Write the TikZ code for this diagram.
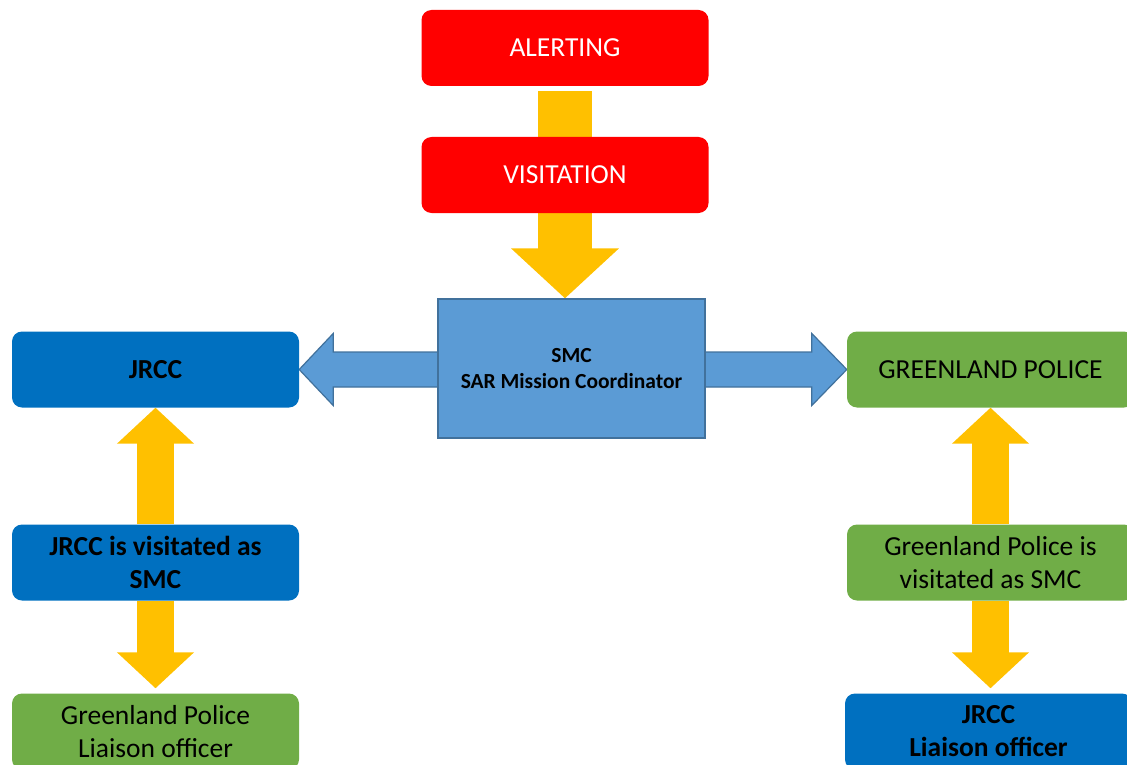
\documentclass[tikz,border=0pt]{standalone}
\usepackage{fontspec}
\setmainfont{Carlito}
\usetikzlibrary{arrows.meta,calc,backgrounds}

\definecolor{alertred}{HTML}{FF0000}
\definecolor{boxblue}{HTML}{0070C0}
\definecolor{boxgreen}{HTML}{70AD47}
\definecolor{smcblue}{HTML}{5B9BD5}
\definecolor{smcedge}{HTML}{41719C}
\definecolor{amber}{HTML}{FFC000}

\tikzstyle{block} = [rectangle, rounded corners=10pt, minimum width=287pt, minimum height=76pt, inner sep=0pt, align=center, font=\fontsize{27.5}{33}\selectfont]
\tikzstyle{redblock} = [block, fill=alertred, text=white]
\tikzstyle{blueblock} = [block, fill=boxblue, font=\fontsize{27.5}{33}\selectfont\bfseries]
\tikzstyle{greenblock} = [block, fill=boxgreen]
\tikzstyle{smcbox} = [rectangle, draw=smcedge, line width=1.2pt, fill=smcblue, minimum width=267pt, minimum height=139pt, align=center, font=\fontsize{21.5}{26.5}\selectfont\bfseries]
\tikzstyle{fatarrow} = [draw=amber, line width=37pt, -{Triangle[length=36pt,width=75pt]}]

\begin{document}
\begin{tikzpicture}[x=1pt, y=-1pt]
        \useasboundingbox (0,0) rectangle (1127,765);
        \clip (0,0) rectangle (1127,765);
        % Top of the chain
        \node (alert) at (565,48) [redblock] {ALERTING};
        \node (visit) at (565,175) [redblock] {VISITATION};
        \node (smc) at (571.5,368.5) [smcbox] {SMC\\SAR Mission Coordinator};
        % Left column
        \node (jrcc) at (155.5,369.5) [blueblock] {JRCC};
        \node (jrccsmc) at (155.5,562.5) [blueblock] {JRCC is visitated as\\SMC};
        \node (gpliaison) at (155.5,731.5) [greenblock] {Greenland Police\\Liaison officer};
        % Right column
        \node (police) at (990.5,369.5) [greenblock] {GREENLAND POLICE};
        \node (policesmc) at (990.5,562.5) [greenblock] {Greenland Police is\\visitated as SMC};
        \node (jrccliaison) at (988.5,731.5) [blueblock] {JRCC\\Liaison officer};

        \begin{scope}[on background layer]
            \draw[draw=amber, line width=54pt, shorten <=5pt] (alert.south) -- (visit.north);
            \draw[fatarrow, line width=54pt, -{Triangle[length=50pt,width=105pt]}] (visit.south) -- (visit.south |- smc.north);
            \draw[fatarrow] (jrccsmc.north) -- (jrcc.south);
            \draw[fatarrow, shorten >=5pt] (jrccsmc.south) -- (gpliaison.north);
            \draw[fatarrow] (policesmc.north) -- (police.south);
            \draw[fatarrow, shorten >=5pt] (policesmc.south) -- (policesmc.south |- jrccliaison.north);
            % Double arrow behind the SMC box
            \draw[draw=smcedge, line width=1.2pt, fill=smcblue, line join=miter]
                (jrcc.east) -- ++(34,-36) -- ++(0,18.5) -- ($(police.west)+(-35,-17.5)$)
                -- ++(0,-18.5) -- (police.west) -- ++(-35,36) -- ++(0,-18.5)
                -- ($(jrcc.east)+(34,17.5)$) -- ++(0,18.5) -- cycle;
        \end{scope}
    \end{tikzpicture}
\end{document}
